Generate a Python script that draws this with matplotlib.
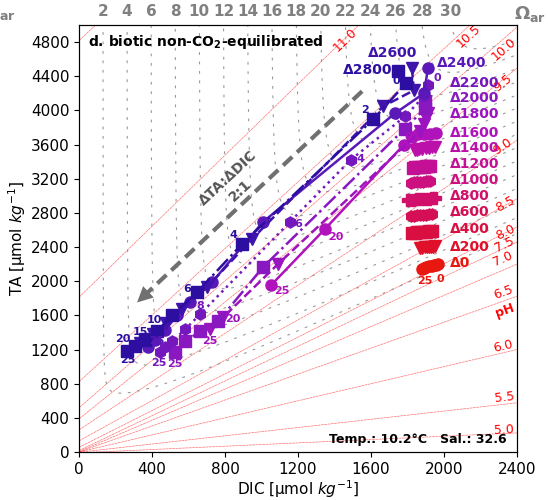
import numpy as np
import matplotlib.pyplot as plt

# ---- series: alkalinity addition, time (days), DIC, TA ----
deltas = [0, 200, 400, 600, 800, 1000, 1200, 1400, 1600, 1800, 2000, 2200, 2400, 2600, 2800]

t_d0 = [0, 2, 4, 6, 10, 15, 20, 25]
dic_d0 = [1967, 1957, 1945, 1934, 1918, 1901, 1890, 1879]
ta_d0 = [2200, 2194, 2188, 2182, 2176, 2165, 2153, 2141]

t_d200 = [0, 2, 4, 6, 10, 15, 20, 25]
dic_d200 = [1950, 1940, 1929, 1918, 1907, 1896, 1880, 1868]
ta_d200 = [2408, 2405, 2402, 2400, 2400, 2397, 2394, 2390]

t_d400 = [0, 2, 4, 6, 10, 15, 20, 25]
dic_d400 = [1934, 1918, 1901, 1885, 1868, 1852, 1841, 1825]
ta_d400 = [2588, 2584, 2580, 2576, 2576, 2572, 2568, 2565]

t_d600 = [0, 2, 4, 6, 10, 15, 20, 25]
dic_d600 = [1934, 1918, 1901, 1885, 1868, 1852, 1835, 1819]
ta_d600 = [2788, 2784, 2780, 2776, 2776, 2772, 2768, 2765]

t_d800 = [0, 2, 4, 6, 10, 15, 20, 25]
dic_d800 = [1950, 1934, 1918, 1896, 1874, 1852, 1830, 1803]
ta_d800 = [2976, 2972, 2968, 2965, 2965, 2960, 2956, 2953]

t_d1000 = [0, 2, 4, 6, 10, 15, 20, 25]
dic_d1000 = [1923, 1912, 1901, 1885, 1868, 1852, 1835, 1819]
ta_d1000 = [3176, 3172, 3168, 3165, 3165, 3160, 3156, 3152]

t_d1200 = [0, 2, 4, 6, 10, 15, 20, 25]
dic_d1200 = [1923, 1912, 1901, 1890, 1874, 1857, 1841, 1830]
ta_d1200 = [3353, 3349, 3345, 3341, 3341, 3337, 3333, 3329]

t_d1400 = [0, 2, 4, 6, 10, 15, 20, 25]
dic_d1400 = [1950, 1934, 1918, 1901, 1879, 1863, 1852, 1841]
ta_d1400 = [3576, 3576, 3565, 3565, 3553, 3553, 3541, 3541]

t_d1600 = [0, 2, 4, 6, 10, 15, 20, 25]
dic_d1600 = [1956, 1923, 1890, 1857, 1824, 1781, 1348, 1052]
ta_d1600 = [3741, 3729, 3729, 3718, 3694, 3600, 2612, 1953]

t_d1800 = [0, 3, 6, 9, 15, 20, 25]
dic_d1800 = [1912, 1901, 1890, 1868, 1090, 789, 718]
ta_d1800 = [3965, 3906, 3835, 3753, 2200, 1576, 1435]

t_d2000 = [0, 1, 2, 8, 15, 18, 21, 25]
dic_d2000 = [1896, 1896, 1786, 1008, 762, 663, 581, 526]
ta_d2000 = [4106, 4024, 3788, 2165, 1529, 1412, 1294, 1176]

t_d2200 = [0, 1, 2, 4, 6, 8, 10, 15, 20, 25]
dic_d2200 = [1912, 1890, 1786, 1490, 1156, 663, 581, 510, 471, 444]
ta_d2200 = [4294, 4165, 3929, 3424, 2694, 1612, 1435, 1294, 1224, 1176]

t_d2400 = [0, 1, 2, 4, 6, 8, 10, 15, 20, 25]
dic_d2400 = [1912, 1890, 1731, 1008, 729, 608, 537, 471, 416, 378]
ta_d2400 = [4494, 4200, 3965, 2694, 1988, 1753, 1600, 1424, 1306, 1235]

t_d2600 = [0, 1, 2, 4, 6, 8, 10, 15, 20, 25]
dic_d2600 = [1824, 1835, 1666, 948, 701, 564, 477, 405, 362, 334]
ta_d2600 = [4494, 4235, 4047, 2494, 1929, 1671, 1506, 1376, 1318, 1271]

t_d2800 = [0, 1, 2, 4, 6, 8, 10, 15, 20, 25]
dic_d2800 = [1748, 1792, 1611, 893, 647, 510, 427, 362, 307, 263]
ta_d2800 = [4459, 4318, 3894, 2435, 1871, 1600, 1412, 1306, 1247, 1188]

series_t = [t_d0, t_d200, t_d400, t_d600, t_d800, t_d1000, t_d1200, t_d1400,
            t_d1600, t_d1800, t_d2000, t_d2200, t_d2400, t_d2600, t_d2800]
series_dic = [dic_d0, dic_d200, dic_d400, dic_d600, dic_d800, dic_d1000, dic_d1200, dic_d1400,
              dic_d1600, dic_d1800, dic_d2000, dic_d2200, dic_d2400, dic_d2600, dic_d2800]
series_ta = [ta_d0, ta_d200, ta_d400, ta_d600, ta_d800, ta_d1000, ta_d1200, ta_d1400,
             ta_d1600, ta_d1800, ta_d2000, ta_d2200, ta_d2400, ta_d2600, ta_d2800]

# Δ label anchor (DIC, TA) as seen in the figure
delta_label_dic = [2030] * 12 + [1962, 1720, 1715]
delta_label_ta = [2212, 2400, 2612, 2812, 3000, 3188, 3376, 3565, 3730, 3953, 4141, 4318, 4553, 4670, 4470]

# pH isolines: TA at DIC = 0 and at DIC = 2400
ph_levels = [5.0, 5.5, 6.0, 6.5, 7.0, 7.5, 8.0, 8.5, 9.0, 9.5, 10.0, 10.5, 11.0, 11.5]
ph_ta_dic0 = [-10, -3, 0, 1, 6, 18, 55, 130, 259, 388, 518, 823, 1812, 4818]
ph_ta_dic2400 = [224, 576, 1200, 1824, 2200, 2459, 2635, 2965, 3650, 4494, 4976, 5503, 6804, 9618]
ph_label_dic = [2329, 2329, 2323, 2323, 2323, 2334, 2334, 2334, 2323, 2323, 2329, 2132, 1458]
ph_label_ta = [259, 635, 1235, 1871, 2259, 2435, 2576, 2906, 3576, 4318, 4718, 4871, 4824]

# aragonite saturation isolines (carbonate constants, T = 10.2 °C, S = 32.6)
omega_levels = [2, 4, 6, 8, 10, 12, 14, 16, 18, 20, 22, 24, 26, 28, 30]
pk1, pk2, pkb, pkw = 6.0, 9.2, 8.8, 13.85
boron_total = 388.0        # µmol/kg
co3_per_omega = 65.5       # µmol/kg carbonate ion for Ω = 1

colors = ['#e8170f', '#e0102a', '#d80f40', '#d40f55', '#d0106a', '#cc1080', '#c41095', '#bc10aa',
          '#b012bb', '#9c14bf', '#8a18c0', '#7418bd', '#5a18b8', '#4014ac', '#2c0fa0']
markers = ['o', 'v', 's', 'h', 'P', 'h', 's', 'v', 'o', 'v', 's', 'h', 'o', 'v', 's']
linestyles = ['-', '--', '-.', ':'] * 4

# (series index, day, dx, dy in points)
time_labels = [(0, 25, 2, -8.5), (0, 0, 2, -10.5),
               (8, 0, -20, -3), (8, 20, 8, -5.5), (8, 25, 8, -4.5),
               (9, 20, 7, -1.5), (9, 25, 0, -8.5),
               (10, 25, 0, -9),
               (11, 0, 6.5, 5), (11, 4, 6.5, 0.7), (11, 6, 6, -1.5), (11, 8, 0, 6), (11, 25, -0.7, -8),
               (12, 25, 6.5, 4),
               (14, 0, -1.5, -7), (14, 2, -6, 6.5), (14, 4, -6.5, 6.5), (14, 6, -7, 2),
               (14, 10, -1.5, 8), (14, 15, -3.5, 6), (14, 20, -9, 5), (14, 25, 0.7, -6.5)]


def omega_isoline(omega, ph):
    h = 10.0 ** -ph
    k1, k2, kb, kw = 10.0 ** -pk1, 10.0 ** -pk2, 10.0 ** -pkb, 10.0 ** -pkw
    co3 = omega * co3_per_omega
    dic = co3 * (1 + h / k2 + h * h / (k1 * k2))
    ta = co3 * (h / k2 + 2) + boron_total * kb / (kb + h) + 1e6 * (kw / h - h)
    return dic, ta


XMAX, YMAX = 2400, 5000

fig = plt.figure(figsize=(5.48, 5.0), dpi=100)
ax = fig.add_axes([0.1442, 0.096, 0.7993, 0.854])
ax.set_xlim(0, XMAX)
ax.set_ylim(0, YMAX)

# pH lines
for lev, a, b in zip(ph_levels, ph_ta_dic0, ph_ta_dic2400):
    ax.plot([0, XMAX], [a, b], color='red', lw=0.5, alpha=0.55, dashes=(4, 0.8), zorder=1)
fig.canvas.draw()
for lev, a, b, lx, ly in zip(ph_levels, ph_ta_dic0, ph_ta_dic2400, ph_label_dic, ph_label_ta):
    p0 = ax.transData.transform((0, a))
    p1 = ax.transData.transform((XMAX, b))
    ang = np.degrees(np.arctan2(p1[1] - p0[1], p1[0] - p0[0]))
    ax.text(lx, ly, f'{lev:.1f}', color='red', fontsize=9, rotation=ang,
            rotation_mode='anchor', ha='center', va='center', zorder=2)
ax.text(2334, 1659, 'pH', color='red', fontsize=9, fontweight='bold', rotation=20,
        ha='center', va='center')

# Ω isolines
ph_grid = np.linspace(6.5, 12.5, 800)
top_ticks = []
for om in omega_levels:
    d, t = omega_isoline(om, ph_grid)
    ax.plot(d, t, color='#999999', lw=0.8, dashes=(2.5, 6), zorder=1)
    hi = ph_grid >= 10.4
    top_ticks.append(np.interp(YMAX, t[hi], d[hi]))

# 2:1 arrow
arrow_start = (1551, 4224)
arrow_end = (307, 1729)
ax.plot([arrow_start[0], arrow_end[0] + 40], [arrow_start[1], arrow_end[1] + 80],
        color='#707070', lw=3, dashes=(3, 1.6), zorder=2)
ax.annotate('', xy=arrow_end, xytext=(arrow_end[0] + 60, arrow_end[1] + 120),
            arrowprops=dict(arrowstyle='-|>', color='#707070', lw=0, mutation_scale=28), zorder=2)
ax.text(850, 3130, 'ΔTA:ΔDIC\n2:1', color='#555555', fontsize=10, fontweight='bold',
        rotation=43, ha='center', va='center', linespacing=1.3)

# series
for i in range(len(deltas)):
    ax.plot(series_dic[i], series_ta[i], color=colors[i], ls=linestyles[i], lw=1.8,
            marker=markers[i], ms=8, zorder=3 + i * 0.01)
for i, day, dx, dy in time_labels:
    j = series_t[i].index(day)
    ax.annotate(str(day), (series_dic[i][j], series_ta[i][j]), xytext=(dx, dy),
                textcoords='offset points', ha='center', va='center', fontsize=8,
                fontweight='bold', color=colors[i], zorder=5)
for i, d in enumerate(deltas):
    ha = 'left'
    if i == 13:
        ha = 'center'
    elif i == 14:
        ha = 'right'
    ax.text(delta_label_dic[i], delta_label_ta[i], f'Δ{d}', color=colors[i], fontsize=10,
            fontweight='bold', ha=ha, va='center', zorder=6)

ax.text(0.02, 0.96, 'd. biotic non-CO$_\\mathbf{2}$-equilibrated', transform=ax.transAxes,
        fontsize=10, fontweight='bold', ha='left', va='center')
ax.text(0.977, 0.015, 'Temp.: 10.2°C   Sal.: 32.6', transform=ax.transAxes,
        fontsize=9, fontweight='bold', ha='right', va='bottom')

ax.set_xticks(range(0, 2401, 400))
ax.set_yticks(range(0, 4801, 400))
ax.tick_params(labelsize=11)
ax.set_xlabel('DIC [µmol $kg^{-1}$]', fontsize=11, labelpad=1)
ax.set_ylabel('TA [µmol $kg^{-1}$]', fontsize=11, labelpad=2)

top = ax.twiny()
top.set_xlim(ax.get_xlim())
top.set_xticks(top_ticks)
top.set_xticklabels([str(o) for o in omega_levels], color='#808080', fontweight='bold', fontsize=11)
top.tick_params(length=0, pad=4)
fig.text(530 / 548, 1 - 14 / 500, 'Ω$_\\mathbf{ar}$', color='#808080', fontsize=13,
         fontweight='bold', ha='center', va='center')
fig.text(-16 / 548, 1 - 12 / 500, 'Ω$_\\mathbf{ar}$', color='#808080', fontsize=13,
         fontweight='bold', ha='left', va='center')

fig.savefig('out.png', dpi=100)
